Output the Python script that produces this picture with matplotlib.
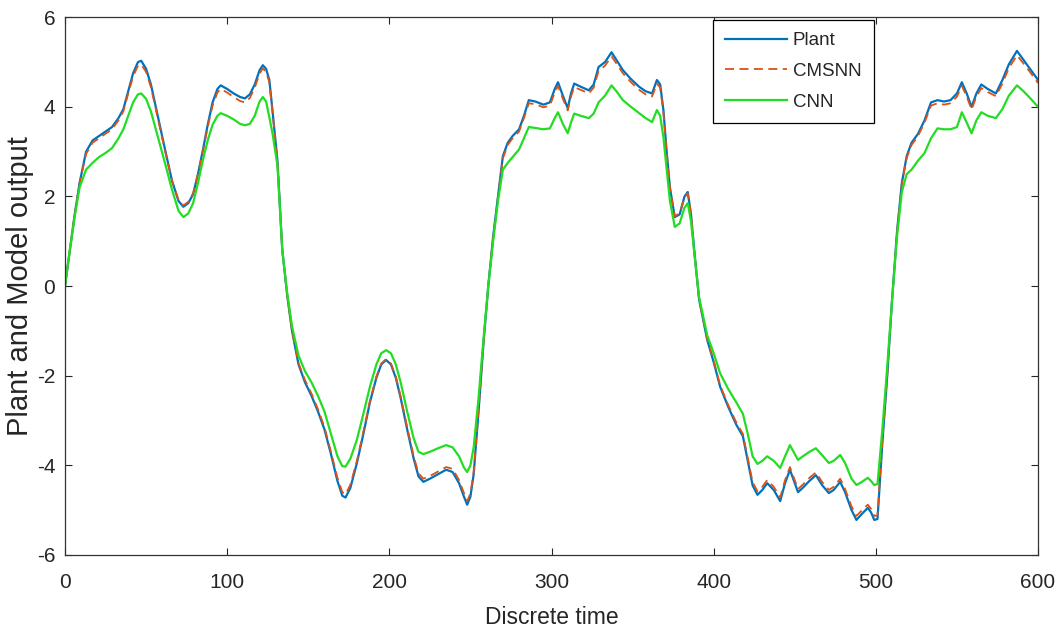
import matplotlib
matplotlib.use("Agg")
import matplotlib.pyplot as plt

# discrete time samples
t = [0, 3, 6, 9, 13, 17, 21, 25, 29, 33, 36, 39, 42, 45, 47, 50, 53, 56, 59, 62,
     66, 70, 73, 76, 79, 82, 85, 88, 91, 94, 96, 100, 104, 108, 111, 114, 117, 120, 122, 124,
     126, 128, 131, 134, 137, 140,
     144, 148, 152, 156, 160, 164, 168, 171, 173, 176, 180, 184, 188, 192, 195, 198, 201, 204, 207, 211,
     215, 218, 221, 225, 230, 235, 239, 243, 246, 248, 250, 252, 255, 258,
     261, 264, 267, 270, 273, 276, 280, 283, 286, 290, 295, 299, 302, 304, 307, 310, 312, 314, 318, 323,
     326, 329, 333, 337, 340, 344, 349, 354, 358, 362, 365, 367, 369, 371, 373, 376, 379, 382, 384, 386,
     388, 391, 396, 400,
     404, 409, 414, 418, 421, 424, 427, 430, 433, 437, 441, 444, 447, 450, 452, 455, 459, 463, 467, 471,
     474, 478, 481, 485, 488, 491, 495, 497, 499, 501,
     504, 507, 510, 513, 516, 519, 522, 526, 530, 534, 538, 542, 546, 550, 553, 556, 559, 562, 565, 569,
     574, 578, 582, 587, 591, 595, 600]

plant = [0, 0.8, 1.6, 2.3, 3.0, 3.25, 3.35, 3.45, 3.55, 3.75, 3.95, 4.35, 4.75, 5.0, 5.03, 4.85, 4.5, 4.0, 3.5, 3.0,
         2.35, 1.9, 1.77, 1.85, 2.05, 2.5, 3.03, 3.6, 4.1, 4.4, 4.48, 4.4, 4.3, 4.22, 4.19, 4.28, 4.5, 4.82, 4.93, 4.85,
         4.6, 3.9, 2.8, 0.8, -0.2, -1.0,
         -1.75, -2.15, -2.45, -2.8, -3.2, -3.75, -4.35, -4.68, -4.72, -4.5, -3.95, -3.3, -2.6, -2.05, -1.75, -1.65, -1.75, -2.05, -2.5, -3.2,
         -3.85, -4.25, -4.37, -4.3, -4.2, -4.1, -4.15, -4.4, -4.7, -4.88, -4.7, -4.2, -2.8, -1.3,
         0.0, 1.1, 2.0, 2.9, 3.2, 3.35, 3.5, 3.8, 4.15, 4.12, 4.05, 4.1, 4.4, 4.55, 4.25, 3.97, 4.3, 4.52, 4.45, 4.37,
         4.5, 4.89, 5.0, 5.22, 5.05, 4.82, 4.62, 4.45, 4.35, 4.3, 4.6, 4.5, 3.93, 3.0, 2.2, 1.54, 1.6, 2.0, 2.1, 1.6,
         0.8, -0.3, -1.2, -1.7,
         -2.25, -2.7, -3.1, -3.35, -3.9, -4.45, -4.66, -4.55, -4.4, -4.55, -4.8, -4.4, -4.1, -4.4, -4.6, -4.5, -4.35, -4.22, -4.45, -4.62,
         -4.55, -4.37, -4.6, -5.0, -5.22, -5.1, -4.95, -5.05, -5.22, -5.2,
         -3.5, -2.0, -0.3, 1.2, 2.3, 2.9, 3.2, 3.4, 3.7, 4.1, 4.15, 4.12, 4.15, 4.3, 4.55, 4.3, 4.0, 4.3, 4.5, 4.4,
         4.3, 4.6, 4.95, 5.25, 5.05, 4.85, 4.6]

cmsnn = [0, 0.8, 1.6, 2.3, 2.95, 3.2, 3.3, 3.4, 3.5, 3.7, 3.9, 4.3, 4.68, 4.92, 4.95, 4.78, 4.44, 3.95, 3.45, 2.97,
         2.35, 1.92, 1.8, 1.88, 2.07, 2.5, 3.0, 3.55, 4.03, 4.32, 4.4, 4.32, 4.22, 4.13, 4.1, 4.2, 4.43, 4.74, 4.86, 4.78,
         4.55, 3.88, 2.8, 0.8, -0.2, -1.0,
         -1.72, -2.1, -2.4, -2.75, -3.15, -3.7, -4.28, -4.6, -4.65, -4.43, -3.9, -3.25, -2.57, -2.02, -1.73, -1.63, -1.73, -2.02, -2.47, -3.15,
         -3.8, -4.18, -4.3, -4.24, -4.14, -4.04, -4.08, -4.33, -4.62, -4.8, -4.63, -4.15, -2.78, -1.3,
         0.0, 1.1, 2.0, 2.85, 3.15, 3.3, 3.45, 3.75, 4.08, 4.06, 3.99, 4.03, 4.32, 4.47, 4.18, 3.92, 4.23, 4.44, 4.38, 4.3,
         4.43, 4.8, 4.92, 5.13, 4.97, 4.75, 4.55, 4.38, 4.28, 4.23, 4.52, 4.43, 3.88, 2.98, 2.2, 1.56, 1.62, 1.98, 2.07, 1.6,
         0.8, -0.3, -1.18, -1.67,
         -2.22, -2.66, -3.05, -3.3, -3.84, -4.38, -4.58, -4.48, -4.33, -4.48, -4.72, -4.33, -4.04, -4.33, -4.53, -4.43, -4.28, -4.16, -4.38, -4.55,
         -4.48, -4.3, -4.53, -4.92, -5.13, -5.02, -4.88, -4.97, -5.13, -5.12,
         -3.45, -2.0, -0.3, 1.2, 2.28, 2.86, 3.15, 3.35, 3.65, 4.03, 4.08, 4.05, 4.08, 4.23, 4.47, 4.23, 3.94, 4.23, 4.42, 4.33,
         4.24, 4.52, 4.87, 5.15, 4.97, 4.78, 4.53]

cnn = [0, 0.8, 1.55, 2.2, 2.6, 2.75, 2.88, 2.97, 3.08, 3.3, 3.5, 3.8, 4.1, 4.28, 4.3, 4.18, 3.9, 3.5, 3.1, 2.7,
       2.15, 1.68, 1.54, 1.62, 1.85, 2.3, 2.81, 3.25, 3.6, 3.8, 3.86, 3.8, 3.72, 3.62, 3.59, 3.62, 3.8, 4.12, 4.22, 4.12,
       3.77, 3.4, 2.7, 0.8, -0.15, -0.9,
       -1.55, -1.9, -2.15, -2.45, -2.8, -3.3, -3.8, -4.02, -4.03, -3.85, -3.43, -2.85, -2.25, -1.75, -1.5, -1.43, -1.5, -1.75, -2.15, -2.8,
       -3.4, -3.7, -3.75, -3.7, -3.62, -3.55, -3.6, -3.8, -4.05, -4.15, -4.0, -3.6, -2.5, -1.2,
       0.0, 1.0, 1.9, 2.6, 2.75, 2.88, 3.05, 3.3, 3.55, 3.53, 3.5, 3.52, 3.75, 3.88, 3.62, 3.41, 3.65, 3.85, 3.8, 3.75,
       3.85, 4.1, 4.25, 4.48, 4.35, 4.15, 4.0, 3.86, 3.75, 3.66, 3.93, 3.8, 3.32, 2.6, 1.9, 1.32, 1.4, 1.75, 1.85, 1.45,
       0.75, -0.25, -1.1, -1.5,
       -1.95, -2.3, -2.6, -2.85, -3.3, -3.8, -3.97, -3.9, -3.8, -3.9, -4.06, -3.8, -3.55, -3.75, -3.88, -3.8, -3.7, -3.62, -3.78, -3.95,
       -3.9, -3.77, -3.95, -4.3, -4.44, -4.38, -4.28, -4.35, -4.44, -4.42,
       -3.2, -1.8, -0.3, 1.1, 2.1, 2.5, 2.6, 2.8, 2.97, 3.3, 3.52, 3.5, 3.5, 3.55, 3.88, 3.65, 3.41, 3.7, 3.88, 3.8,
       3.75, 3.95, 4.25, 4.48, 4.35, 4.2, 4.0]

x_ticks = [0, 100, 200, 300, 400, 500, 600]
y_ticks = [-6, -4, -2, 0, 2, 4, 6]

plt.rcParams['font.family'] = ['Liberation Sans', 'DejaVu Sans']
plt.rcParams['axes.unicode_minus'] = False
txt = '#262626'

fig = plt.figure(figsize=(10.6, 6.4), dpi=100)
ax = fig.add_axes([0.0613, 0.133, 0.918, 0.840])

ax.plot(t, plant, color='#0072BD', lw=1.6, label='Plant')
ax.plot(t, cmsnn, color='#D95319', lw=1.3, dashes=(5, 3), label='CMSNN')
ax.plot(t, cnn, color='#22DD22', lw=1.6, label='CNN')

ax.set_xlim(0, 600)
ax.set_ylim(-6, 6)
ax.set_xticks(x_ticks)
ax.set_yticks(y_ticks)
ax.tick_params(direction='in', top=True, right=True, length=5, width=0.8,
               labelsize=15, colors=txt)
ax.tick_params(axis='x', pad=13)
ax.tick_params(axis='y', pad=7)
for s in ax.spines.values():
    s.set_linewidth(0.9)
    s.set_color('#333333')

ax.set_xlabel('Discrete time', fontsize=16.5, color=txt, labelpad=10)
ax.set_ylabel('Plant and Model output', fontsize=21, color=txt, labelpad=2)

leg = ax.legend(loc='upper right', bbox_to_anchor=(0.831, 0.995), borderaxespad=0,
                fancybox=False, edgecolor='black', framealpha=1, fontsize=13.5,
                handlelength=3.3, labelspacing=0.72, borderpad=0.65, handletextpad=0.3)
leg.get_frame().set_linewidth(0.9)
for txt_item in leg.get_texts():
    txt_item.set_color(txt)

fig.savefig('out.png', dpi=100)
